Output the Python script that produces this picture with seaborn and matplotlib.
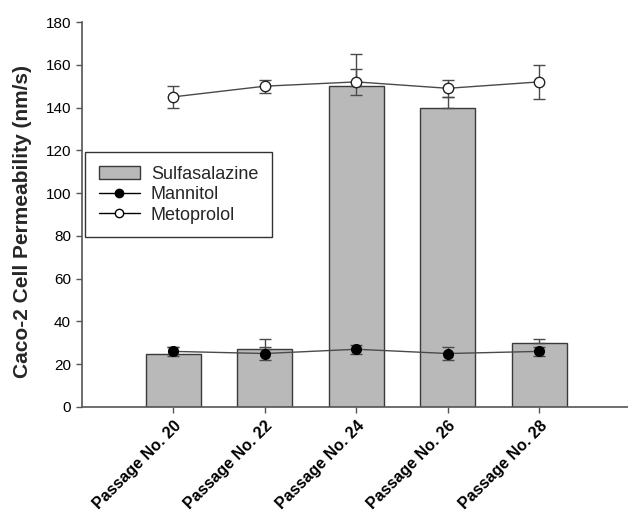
import matplotlib
matplotlib.use("Agg")
import matplotlib.pyplot as plt
import matplotlib.transforms as mtransforms
from matplotlib.patches import Patch
from matplotlib.lines import Line2D
import numpy as np
import pandas as pd
import seaborn as sns

passages = ["Passage No. 20", "Passage No. 22", "Passage No. 24", "Passage No. 26", "Passage No. 28"]
sulfasalazine = [25, 27, 150, 140, 30]
sulfasalazine_err = [3, 5, 15, 5, 2]
mannitol = [26, 25, 27, 25, 26]
mannitol_err = [2, 3, 2, 3, 2]
metoprolol = [145, 150, 152, 149, 152]
metoprolol_err = [5, 3, 6, 4, 8]
y_ticks = [0, 20, 40, 60, 80, 100, 120, 140, 160, 180]

sns.set_style("ticks")
plt.rcParams["font.family"] = ["Liberation Sans", "DejaVu Sans"]

W, H = 628, 513
fig = plt.figure(figsize=(W / 100, H / 100), dpi=100)
ax = fig.add_axes([82 / W, 1 - 407 / H, (W - 82) / W, (407 - 22) / H])

df = pd.DataFrame({"passage": passages, "value": sulfasalazine})
sns.barplot(data=df, x="passage", y="value", color="#b9b9b9", width=0.6,
            edgecolor="#3a3a3a", linewidth=1.0, saturation=1, ax=ax, zorder=1)

x = np.arange(len(passages))
line_col = "#4a4a4a"
# upper error bars for the bars
ax.errorbar(x, sulfasalazine, yerr=[np.zeros(len(x)), sulfasalazine_err], fmt="none",
            ecolor=line_col, elinewidth=1.0, capsize=4.5, capthick=1.0, zorder=2)
ax.errorbar(x, mannitol, yerr=mannitol_err, fmt="-o", color=line_col, lw=1.0,
            mfc="black", mec="black", ms=7, ecolor=line_col, elinewidth=1.0,
            capsize=4.5, capthick=1.0, zorder=3)
ax.errorbar(x, metoprolol, yerr=metoprolol_err, fmt="-o", color=line_col, lw=1.0,
            mfc="white", mec="#222222", ms=7.5, mew=1.0, ecolor=line_col, elinewidth=1.0,
            capsize=4.5, capthick=1.0, zorder=3)

ax.set_xlim(-1.0, 4.97)
ax.set_ylim(0, 180)
ax.set_yticks(y_ticks)
ax.set_yticklabels([str(t) for t in y_ticks], fontsize=11)
ax.set_xticks(x)
ax.set_xticklabels(passages, rotation=45, ha="right", rotation_mode="anchor",
                   fontsize=11.5, fontweight="bold")
shift = mtransforms.ScaledTranslation(7 / 100, -2 / 100, fig.dpi_scale_trans)
for lbl in ax.get_xticklabels():
    lbl.set_transform(lbl.get_transform() + shift)
ax.set_xlabel("")
ax.set_ylabel("Caco-2 Cell Permeability (nm/s)", fontsize=15, fontweight="bold")
ax.yaxis.set_label_coords(-50 / (W - 82), (407 - 222) / (407 - 22))

for side in ["top", "right"]:
    ax.spines[side].set_visible(False)
for side in ["left", "bottom"]:
    ax.spines[side].set_color("#555555")
    ax.spines[side].set_linewidth(1.2)
ax.tick_params(axis="both", colors="#555555", labelcolor="black", length=4, width=1, pad=4)

handles = [
    Patch(facecolor="#b9b9b9", edgecolor="#3a3a3a", label="Sulfasalazine"),
    Line2D([], [], color="black", lw=1.0, marker="o", mfc="black", mec="black", ms=6, label="Mannitol"),
    Line2D([], [], color="black", lw=1.0, marker="o", mfc="white", mec="black", ms=6, label="Metoprolol"),
]
leg = ax.legend(handles=handles, loc="upper left", bbox_to_anchor=(3 / (W - 82), (407 - 152) / (407 - 22)),
                frameon=True, fancybox=False, edgecolor="black", fontsize=13,
                handlelength=2.3, borderpad=0.75, labelspacing=0.2, handletextpad=0.6,
                borderaxespad=0)
leg.get_frame().set_linewidth(1.0)

fig.savefig("out.png", dpi=100)
